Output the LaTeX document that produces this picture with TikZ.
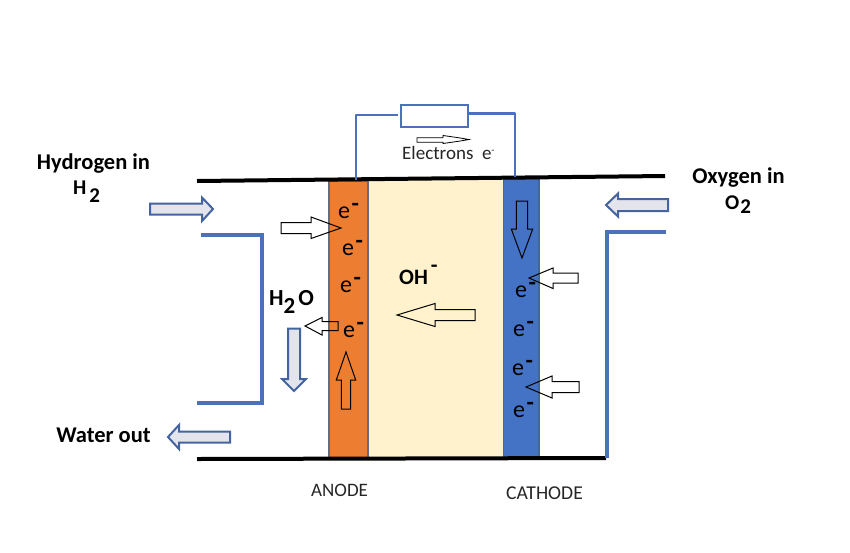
\documentclass[tikz,border=0pt]{standalone}
\usepackage{fontspec}
\setmainfont{Carlito}
\definecolor{wireblue}{HTML}{4A72BA}
\definecolor{cathblue}{HTML}{4472C4}
\definecolor{anodeorange}{HTML}{ED7D31}
\definecolor{cream}{HTML}{FFF2CC}
\definecolor{edgegray}{HTML}{5F6E80}
\definecolor{arrowfill}{HTML}{E3E4EC}
\definecolor{arrowedge}{HTML}{44649F}
\definecolor{labelgray}{HTML}{262626}
\tikzset{
  x=1pt,y=-1pt,
  wire/.style={draw=wireblue,line width=4pt,line join=miter},
  thinwire/.style={draw=wireblue,line width=2.6pt,line join=round},
  plate/.style={draw=black,line width=4pt},
  flow/.style={draw=arrowedge,fill=arrowfill,line width=2pt,line join=miter},
  outline/.style={draw=black,line width=1pt,line join=miter},
  bold lab/.style={font=\fontsize{22.5}{26}\selectfont\bfseries,inner sep=0pt,anchor=base,text=black},
  formula/.style={font=\fontsize{21}{24}\selectfont\bfseries,inner sep=0pt,anchor=base west,text=black},
  side lab/.style={font=\fontsize{19}{22}\selectfont,inner sep=0pt,anchor=base west,text=labelgray},
  charge/.style={font=\fontsize{24}{28}\selectfont,inner sep=0pt,anchor=base west,text=black},
}
\newcommand{\minuscharge}{e\raisebox{6.5pt}{\kern1.5pt\bfseries -}}
\begin{document}
\begin{tikzpicture}
\useasboundingbox (0,0) rectangle (850,552);
\fill[white] (0,0) rectangle (850,552);
% electrolyte and electrodes
\fill[cream] (368,180) rectangle (503,458);
\filldraw[fill=anodeorange,draw=edgegray,line width=2pt] (329,181) rectangle (368,458);
\filldraw[fill=cathblue,draw=arrowedge,line width=1.5pt] (503.5,179) rectangle (539,458);
% housing walls
\draw[plate] (197,181) -- (665,176);
\draw[plate] (197,459) -- (606,458);
\draw[wire] (201,235) -- (262,235) -- (262,403) -- (197,403);
\draw[wire] (666,231.5) -- (607,231.5) -- (607,458);
% external circuit
\node[draw=wireblue,line width=2.4pt,minimum width=67pt,minimum height=22pt,inner sep=0pt] (res) at (434.5,116) {};
\coordinate (anodetop) at (356,180);
\coordinate (cathodetop) at (515,177);
\coordinate (resleft) at (398,115);
\coordinate (resright) at (468,113.5);
\draw[thinwire] (anodetop) -- (anodetop |- resleft) -- (resleft);
\draw[thinwire] (resright) -- (cathodetop |- resright) -- (cathodetop);
% electron flow mini arrow
\draw[draw=black,line width=0.8pt,line join=miter] (417,137.7) -- (443,137.7) -- (443,135.5) -- (459,137.8) -- (469,139.5) -- (459,141.2) -- (443,143.5) -- (443,142.3) -- (417,142.3) -- cycle;
% gas and water arrows
\draw[flow] (150,203.5) -- (202,203.5) -- (202,197.5) -- (213,209) -- (202,221) -- (202,214.5) -- (150,214.5) -- cycle;
\draw[flow] (668,199) -- (618,199) -- (618,193.5) -- (606,205) -- (618,216.5) -- (618,211) -- (668,211) -- cycle;
\draw[flow] (230,431.5) -- (179,431.5) -- (179,425) -- (168,437) -- (179,449) -- (179,442.5) -- (230,442.5) -- cycle;
\draw[flow] (288,328.5) -- (288,379) -- (282,379) -- (294,391) -- (306,379) -- (300,379) -- (300,328.5) -- cycle;
% outlined arrows
\draw[outline] (281,222.5) -- (311,222.5) -- (311,217) -- (341,228) -- (311,238.5) -- (311,233.5) -- (281,233.5) -- cycle;
\draw[outline] (338,321.5) -- (322,321.5) -- (322,317.5) -- (305,326) -- (322,335) -- (322,330.5) -- (338,330.5) -- cycle;
\draw[outline] (475,309.5) -- (435,309.5) -- (435,303.5) -- (397,315) -- (435,326.5) -- (435,320.5) -- (475,320.5) -- cycle;
\draw[outline] (341.3,409) -- (341.3,380) -- (336.3,380) -- (346,352) -- (355.7,380) -- (350.7,380) -- (350.7,409) -- cycle;
\draw[outline] (516.3,201) -- (516.3,229) -- (511.3,229) -- (522,258) -- (532.7,229) -- (527.7,229) -- (527.7,201) -- cycle;
\draw[outline] (578,273) -- (553,273) -- (553,268) -- (529,278) -- (553,288.5) -- (553,283) -- (578,283) -- cycle;
\draw[outline] (579,381.5) -- (552,381.5) -- (552,376) -- (526,387) -- (552,398) -- (552,392.5) -- (579,392.5) -- cycle;
% labels
\node[bold lab] (hyd) at (93.5,169) {Hydrogen in};
\node[formula] (htwo) at (73,194) {H\raisebox{-8pt}{\kern3pt 2}};
\node[bold lab] (oxy) at (738.5,183) {Oxygen in};
\node[formula] (otwo) at (725,209) {O\raisebox{-4pt}{\kern1pt 2}};
\node[bold lab] (water) at (103.5,442) {Water out};
\node[side lab] (anode) at (311,496) {ANODE};
\node[side lab,font=\fontsize{19.6}{22}\selectfont] (cathode) at (506,499) {CATHODE};
\node[font=\fontsize{19}{22}\selectfont,inner sep=0pt,anchor=base west,text=labelgray] (elec) at (402,159.5) {Electrons\ \ e\raisebox{6pt}{\fontsize{10}{10}\selectfont -}};
\node[formula,font=\fontsize{23}{26}\selectfont\bfseries] (water2) at (269,305) {H\raisebox{-8pt}{2}\kern3pt O};
\node[formula,font=\fontsize{22}{26}\selectfont\bfseries] (oh) at (399,284) {OH\raisebox{11.5pt}{\kern3pt -}};
\node[charge] (ea) at (338,218) {\minuscharge};
\node[charge] (eb) at (342,255) {\minuscharge};
\node[charge] (ec) at (340,292) {\minuscharge};
\node[charge] (ed) at (343,337) {\minuscharge};
\node[charge] (ee) at (515,297) {\minuscharge};
\node[charge] (ef) at (513,336) {\minuscharge};
\node[charge] (eg) at (512,375) {\minuscharge};
\node[charge] (eh) at (513,417) {\minuscharge};
\end{tikzpicture}
\end{document}
